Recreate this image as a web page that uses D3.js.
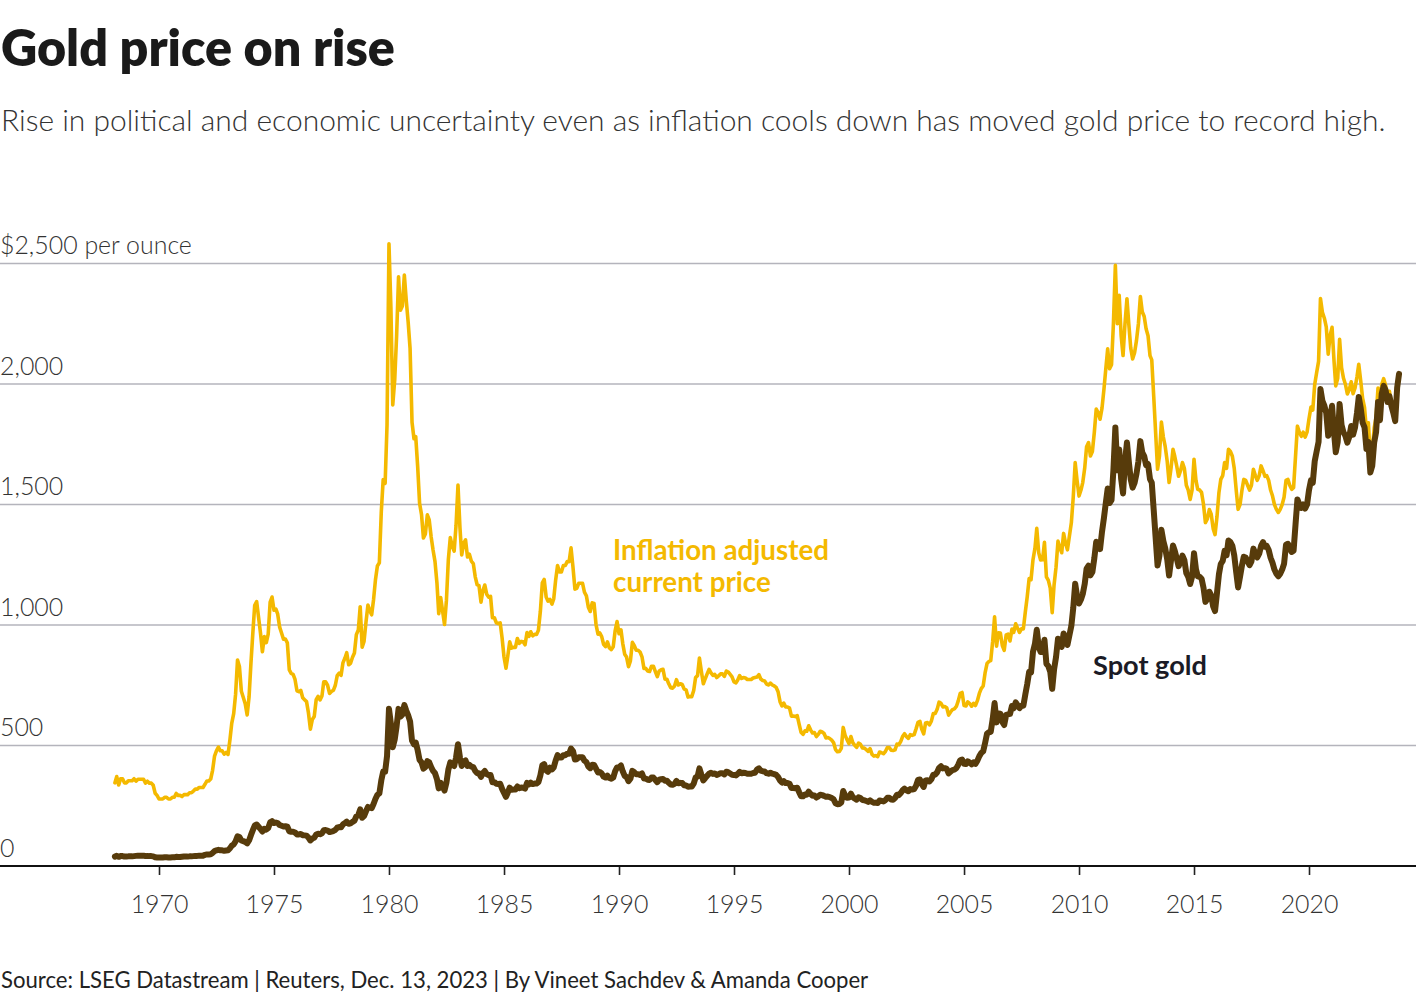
<!DOCTYPE html>
<html><head><meta charset="utf-8">
<script src="https://cdn.jsdelivr.net/npm/d3@7"></script>
<style>
body{margin:0;background:#fff}
svg{display:block}
text{font-family:Lato,"Noto Sans",sans-serif}
</style>
</head><body>
<svg id="chart" width="1420" height="1000"></svg>
<script>
// first observation: February 1968, then monthly
const firstMonth = [1968, 2];

const spotGold = [
/*1968*/ 39,42,38,41,41,39,39,40,40,40,41,
/*1969*/ 42,43,43,43,43,41,42,41,41,40,36,35,
/*1970*/ 35,35,35,36,36,35,35,36,36,38,37,37,
/*1971*/ 38,39,39,39,40,40,41,42,42,43,43,43,
/*1972*/ 46,48,48,49,54,62,65,67,65,65,63,64,
/*1973*/ 65,74,84,90,102,123,120,106,103,100,94,106,
/*1974*/ 129,150,168,172,163,154,143,154,151,158,181,186,
/*1975*/ 178,180,178,170,167,164,165,163,144,142,142,139,
/*1976*/ 131,131,133,128,127,126,118,106,114,117,131,134,
/*1977*/ 132,136,148,149,147,141,143,145,150,159,162,161,
/*1978*/ 173,178,184,175,177,183,188,206,212,235,200,207,
/*1979*/ 227,245,242,240,257,279,295,301,355,392,392,456,
/*1980*/ 652,590,493,525,580,652,620,628,668,645,625,600,
/*1981*/ 520,505,512,480,440,430,404,410,435,430,410,395,
/*1982*/ 385,360,322,345,330,313,345,400,430,420,415,450,
/*1983*/ 505,450,415,432,438,415,420,412,410,395,385,385,
/*1984*/ 370,386,394,381,377,378,348,348,341,340,341,320,
/*1985*/ 303,287,304,325,316,317,317,330,323,326,325,321,
/*1986*/ 345,339,346,340,342,342,348,376,418,423,397,391,
/*1987*/ 408,401,409,438,460,450,450,460,460,466,466,487,
/*1988*/ 477,442,443,451,451,451,437,431,413,406,420,419,
/*1989*/ 404,388,390,384,371,367,375,365,362,367,394,409,
/*1990*/ 410,417,393,374,369,352,362,395,389,381,381,378,
/*1991*/ 384,363,363,358,357,367,367,357,348,358,360,361,
/*1992*/ 354,354,345,338,337,341,353,343,345,344,335,334,
/*1993*/ 329,330,330,342,367,371,405,379,355,365,374,383,
/*1994*/ 387,382,384,378,381,385,385,380,391,389,384,379,
/*1995*/ 378,376,382,391,385,387,386,383,383,383,386,387,
/*1996*/ 400,405,396,393,392,385,383,387,383,381,378,369,
/*1997*/ 355,346,352,344,344,341,324,324,323,325,306,289,
/*1998*/ 289,297,296,308,299,292,293,284,289,296,294,291,
/*1999*/ 287,288,286,282,277,261,256,257,264,311,293,283,
/*2000*/ 284,300,286,280,275,285,282,274,273,270,266,272,
/*2001*/ 266,262,263,261,272,270,268,273,283,283,276,275,
/*2002*/ 282,296,294,302,314,321,314,310,319,317,319,333,
/*2003*/ 357,359,340,328,355,356,351,360,379,379,389,407,
/*2004*/ 414,405,406,403,384,392,398,400,406,420,439,442,
/*2005*/ 424,423,434,429,422,430,424,437,456,469,476,510,
/*2006*/ 549,555,557,610,676,596,633,632,598,585,627,629,
/*2007*/ 631,664,655,679,667,655,665,665,712,754,806,803,
/*2008*/ 889,922,980,909,888,889,939,839,829,806,735,816,
/*2009*/ 867,943,924,909,965,937,917,957,996,1070,1171,1119,
/*2010*/ 1089,1106,1128,1170,1234,1246,1206,1220,1277,1345,1333,1315,
/*2011*/ 1387,1445,1504,1566,1506,1518,1642,1820,1642,1728,1606,1546,
/*2012*/ 1679,1757,1679,1604,1570,1590,1627,1679,1763,1716,1701,1663,
/*2013*/ 1667,1605,1591,1477,1364,1247,1288,1395,1348,1318,1273,1205,
/*2014*/ 1269,1330,1308,1277,1244,1262,1288,1269,1215,1200,1170,1200,
/*2015*/ 1298,1231,1202,1200,1192,1154,1096,1108,1138,1123,1077,1058,
/*2016*/ 1133,1211,1253,1266,1308,1289,1351,1344,1328,1289,1219,1156,
/*2017*/ 1200,1248,1283,1280,1264,1248,1264,1317,1296,1280,1296,1328,
/*2018*/ 1344,1325,1328,1311,1279,1258,1230,1213,1202,1213,1230,1254,
/*2019*/ 1333,1337,1317,1303,1308,1417,1521,1500,1486,1500,1483,1500,
/*2020*/ 1560,1600,1590,1680,1720,1760,1979,1930,1910,1880,1785,1850,
/*2021*/ 1910,1800,1717,1760,1917,1830,1800,1785,1757,1780,1826,1790,
/*2022*/ 1820,1880,1946,1900,1840,1820,1730,1760,1633,1660,1757,1800,
/*2023*/ 1925,1850,1960,1992,1975,1925,1950,1910,1880,1846,1985,2042
];

const inflationAdjusted = [
/*1968*/ 345,371,336,362,362,345,345,354,354,354,362,
/*1969*/ 352,360,360,360,360,344,352,344,344,335,302,293,
/*1970*/ 278,278,278,285,285,278,278,285,285,301,293,293,
/*1971*/ 288,296,296,296,304,304,311,319,319,326,326,326,
/*1972*/ 339,353,353,361,397,456,478,493,478,478,464,471,
/*1973*/ 463,525,592,632,712,855,828,725,699,673,627,701,
/*1974*/ 846,975,1082,1097,1032,966,889,952,927,962,1095,1116,
/*1975*/ 1061,1066,1045,991,967,941,942,926,814,799,795,774,
/*1976*/ 727,723,729,698,690,682,636,568,608,620,690,704,
/*1977*/ 689,706,764,764,750,716,724,729,750,790,800,791,
/*1978*/ 844,863,885,835,841,866,884,960,979,1076,908,932,
/*1979*/ 1012,1083,1060,1042,1105,1189,1245,1258,1470,1603,1588,1829,
/*1980*/ 2582,2313,1913,2016,2198,2445,2306,2324,2452,2348,2256,2148,
/*1981*/ 1841,1773,1782,1656,1505,1458,1361,1378,1457,1436,1365,1311,
/*1982*/ 1263,1174,1047,1114,1059,1002,1101,1272,1363,1327,1307,1413,
/*1983*/ 1581,1404,1291,1339,1353,1282,1294,1265,1255,1201,1167,1163,
/*1984*/ 1095,1143,1166,1128,1116,1119,1030,1030,1009,1006,1009,947,
/*1985*/ 867,821,869,930,904,907,907,944,924,932,930,918,
/*1986*/ 969,953,972,955,961,961,978,1057,1175,1189,1116,1099,
/*1987*/ 1106,1087,1108,1187,1247,1220,1220,1247,1247,1263,1263,1320,
/*1988*/ 1240,1149,1152,1173,1173,1173,1136,1121,1074,1056,1092,1089,
/*1989*/ 1002,962,967,952,920,910,930,905,898,910,977,1014,
/*1990*/ 964,980,924,879,867,827,851,928,914,895,895,888,
/*1991*/ 868,820,820,809,807,829,829,807,786,809,814,816,
/*1992*/ 775,775,756,740,738,747,773,751,756,753,734,731,
/*1993*/ 701,703,703,728,782,790,863,807,756,777,797,816,
/*1994*/ 801,791,795,782,789,797,797,787,809,805,795,785,
/*1995*/ 764,760,772,790,778,782,780,774,774,774,780,782,
/*1996*/ 784,794,776,770,768,755,751,759,751,747,741,723,
/*1997*/ 682,664,676,660,660,655,622,622,620,624,588,555,
/*1998*/ 546,561,559,582,565,552,554,537,546,559,556,550,
/*1999*/ 531,533,529,522,512,483,474,475,488,575,542,524,
/*2000*/ 508,537,512,501,492,510,505,490,489,483,476,487,
/*2001*/ 463,456,458,454,473,470,466,475,492,492,480,479,
/*2002*/ 482,506,503,516,537,549,537,530,545,542,545,569,
/*2003*/ 596,600,568,548,593,595,586,601,633,633,650,680,
/*2004*/ 675,660,662,657,626,639,649,652,662,685,716,720,
/*2005*/ 666,664,681,674,663,675,666,686,716,736,747,801,
/*2006*/ 840,849,852,933,1034,912,968,967,915,895,959,962,
/*2007*/ 934,983,969,1005,987,969,984,984,1054,1116,1193,1188,
/*2008*/ 1271,1318,1401,1300,1270,1271,1343,1200,1185,1153,1051,1167,
/*2009*/ 1240,1348,1321,1300,1380,1340,1312,1368,1424,1530,1674,1600,
/*2010*/ 1535,1560,1591,1650,1740,1757,1701,1720,1800,1896,1880,1854,
/*2011*/ 1900,1979,2060,2146,2063,2080,2250,2493,2250,2368,2200,2118,
/*2012*/ 2250,2354,2250,2150,2104,2130,2180,2250,2363,2300,2280,2229,
/*2013*/ 2200,2118,2100,1950,1800,1646,1700,1842,1780,1740,1680,1591,
/*2014*/ 1650,1729,1700,1660,1617,1640,1674,1650,1580,1560,1521,1560,
/*2015*/ 1688,1600,1563,1560,1550,1500,1425,1440,1479,1460,1400,1375,
/*2016*/ 1450,1550,1604,1620,1674,1650,1729,1720,1700,1650,1560,1480,
/*2017*/ 1500,1560,1604,1600,1580,1560,1580,1646,1620,1600,1620,1660,
/*2018*/ 1640,1617,1620,1600,1560,1535,1500,1480,1467,1480,1500,1530,
/*2019*/ 1600,1604,1580,1563,1570,1700,1825,1800,1783,1800,1780,1800,
/*2020*/ 1856,1904,1892,1999,2047,2094,2355,2297,2273,2237,2124,2202,
/*2021*/ 2235,2097,1992,2024,2185,2068,2025,1999,1959,1976,2009,1960,
/*2022*/ 1984,2030,2082,2014,1941,1902,1808,1839,1698,1718,1818,1863,
/*2023*/ 1983,1896,1999,2022,1995,1944,1970,1920,1880,1846,1985,2042
];

const yTickValues = [0, 500, 1000, 1500, 2000, 2500];
const yTickLabels = ["0", "500", "1,000", "1,500", "2,000", "$2,500 per ounce"];
const xTickYears = [1970, 1975, 1980, 1985, 1990, 1995, 2000, 2005, 2010, 2015, 2020];

const titleText = "Gold price on rise";
const subtitleText = "Rise in political and economic uncertainty even as inflation cools down has moved gold price to record high.";
const sourceText = "Source: LSEG Datastream | Reuters, Dec. 13, 2023 | By Vineet Sachdev & Amanda Cooper";

const COLOR_ADJ = "#f4b900";
const COLOR_SPOT = "#573b0b";

const svg = d3.select("#chart");

function fit(sel, target) {
  const base = parseFloat(sel.style("font-size"));
  const w = sel.node().getComputedTextLength();
  if (w > 0) sel.style("font-size", (base * target / w) + "px");
  return parseFloat(sel.style("font-size"));
}

const n = Math.min(spotGold.length, inflationAdjusted.length);
const dates = d3.range(n).map(i => new Date(firstMonth[0], firstMonth[1] - 1 + i, 1));

const x = d3.scaleTime()
  .domain([new Date(1970, 0, 1), new Date(2020, 0, 1)])
  .range([159, 1309]);
const y = d3.scaleLinear().domain([0, 2500]).range([866, 263.5]);

// gridlines
svg.append("g").selectAll("line")
  .data(yTickValues.filter(v => v > 0))
  .join("line")
  .attr("x1", 0).attr("x2", 1416)
  .attr("y1", d => y(d)).attr("y2", d => y(d))
  .attr("stroke", "#b4b4bc").attr("stroke-width", 1.3);

// y labels
const yl = svg.append("g").selectAll("text")
  .data(yTickValues)
  .join("text")
  .attr("x", 0)
  .attr("y", d => y(d) - 9.5)
  .attr("fill", "#333")
  .style("font-weight", 300)
  .style("font-size", "24px")
  .text((d, i) => yTickLabels[i]);
const ylSize = fit(yl.filter((d, i) => i === yTickValues.length - 1), 192);
yl.style("font-size", ylSize + "px");

// lines
const lineGen = vals => d3.line()
  .x((d, i) => x(dates[i]))
  .y(d => y(d))(vals.slice(0, n));

svg.append("path")
  .attr("d", lineGen(inflationAdjusted))
  .attr("fill", "none")
  .attr("stroke", COLOR_ADJ)
  .attr("stroke-width", 3.6)
  .attr("stroke-linejoin", "round")
  .attr("stroke-linecap", "round");

svg.append("path")
  .attr("d", lineGen(spotGold))
  .attr("fill", "none")
  .attr("stroke", COLOR_SPOT)
  .attr("stroke-width", 6)
  .attr("stroke-linejoin", "round")
  .attr("stroke-linecap", "round");

// x axis
const xAxis = d3.axisBottom(x)
  .tickValues(xTickYears.map(yr => new Date(yr, 0, 1)))
  .tickFormat(d3.timeFormat("%Y"))
  .tickSize(9)
  .tickPadding(0);
const gx = svg.append("g").attr("transform", "translate(0,866)").call(xAxis);
gx.select(".domain").remove();
gx.selectAll(".tick line").attr("stroke", "#222").attr("stroke-width", 1.6);
gx.selectAll(".tick text")
  .attr("y", 47).attr("dy", 0)
  .attr("fill", "#333")
  .style("font-family", "Lato, 'Noto Sans', sans-serif")
  .style("font-weight", 300)
  .style("font-size", ylSize + "px");

svg.append("line")
  .attr("x1", 0).attr("x2", 1416)
  .attr("y1", 866).attr("y2", 866)
  .attr("stroke", "#111").attr("stroke-width", 2);

// series labels
const lab1 = svg.append("text").attr("x", 613).attr("y", 559.5)
  .attr("fill", COLOR_ADJ).style("font-weight", 700).style("font-size", "26px")
  .text("Inflation adjusted");
const labSize = fit(lab1, 216);
svg.append("text").attr("x", 613).attr("y", 591.5)
  .attr("fill", COLOR_ADJ).style("font-weight", 700).style("font-size", labSize + "px")
  .text("current price");
const lab3 = svg.append("text").attr("x", 1093).attr("y", 674.5)
  .attr("fill", "#1b1b26").style("font-weight", 700).style("font-size", "26px")
  .text("Spot gold");
fit(lab3, 114);

// title, subtitle, source
const t = svg.append("text").attr("x", 1).attr("y", 66)
  .attr("fill", "#1a1a1a").style("font-weight", 800).style("font-size", "48px")
  .text(titleText);
fit(t, 394);
const st = svg.append("text").attr("x", 1).attr("y", 131)
  .attr("fill", "#333").style("font-weight", 300).style("font-size", "28px")
  .text(subtitleText);
fit(st, 1385);
const src = svg.append("text").attr("x", 1).attr("y", 988)
  .attr("fill", "#222").style("font-weight", 400).style("font-size", "22px")
  .text(sourceText);
fit(src, 868);
</script>
</body></html>
